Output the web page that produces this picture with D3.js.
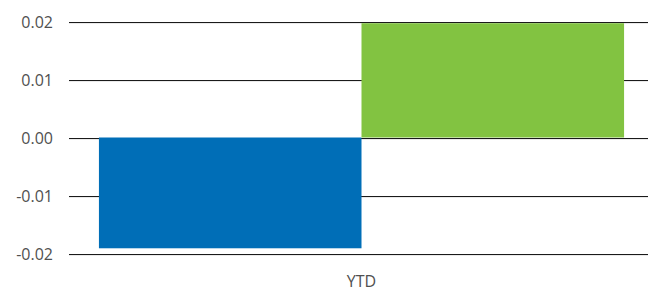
<!DOCTYPE html>
<html>
<head>
<meta charset="utf-8">
<script src="https://cdn.jsdelivr.net/npm/d3@7"></script>
<style>
body { margin: 0; background: #fff; }
svg { display: block; font-family: "Open Sans", sans-serif; }
</style>
</head>
<body>
<div id="chart"></div>
<script>
var categories = ["YTD"];
var seriesNames = ["A", "B"];
var seriesValues = [-0.0191, 0.0197];
var yTicks = [-0.02, -0.01, 0, 0.01, 0.02];
var colors = ["#006eb7", "#82c341"];

var width = 648, height = 292;
var margin = {top: 21.5, right: 0, bottom: 38.5, left: 69};
var plotRight = 654; // plot area runs past the window edge

var svg = d3.select("#chart")
  .append("svg")
  .attr("width", width)
  .attr("height", height);

var y = d3.scaleLinear()
  .domain([-0.02, 0.02])
  .range([height - margin.bottom, margin.top]);

var x0 = d3.scaleBand()
  .domain(categories)
  .range([margin.left, plotRight])
  .paddingOuter(0.057);

var x1 = d3.scaleBand()
  .domain(seriesNames)
  .range([0, x0.bandwidth()]);

var fmt = function(d) { return d3.format(".2f")(d).replace("\u2212", "-"); };

// gridlines (dark line with a faint shadow under it)
var grid = svg.append("g");
grid.selectAll("line.shadow")
  .data(yTicks)
  .enter()
  .append("line")
  .attr("class", "shadow")
  .attr("x1", margin.left)
  .attr("x2", width)
  .attr("y1", function(d) { return Math.round(y(d)) + 1; })
  .attr("y2", function(d) { return Math.round(y(d)) + 1; })
  .attr("stroke", "#d6d6d6")
  .attr("stroke-width", 1);

grid.selectAll("line.main")
  .data(yTicks)
  .enter()
  .append("line")
  .attr("class", "main")
  .attr("x1", margin.left)
  .attr("x2", width)
  .attr("y1", function(d) { return Math.round(y(d)) + 0.5; })
  .attr("y2", function(d) { return Math.round(y(d)) + 0.5; })
  .attr("stroke", "#1a1a1a")
  .attr("stroke-width", 1);

// y axis labels
var yAxis = svg.append("g")
  .attr("transform", "translate(" + (margin.left - 16) + ",0)")
  .call(d3.axisLeft(y).tickValues(yTicks).tickSize(0).tickFormat(fmt));
yAxis.select(".domain").remove();
yAxis.selectAll("text")
  .attr("x", 0)
  .attr("dy", "0.36em")
  .attr("fill", "#505050")
  .style("font-size", "16px")
  .style("font-family", "'Open Sans', sans-serif");

// bars
var bars = svg.append("g")
  .attr("transform", "translate(" + x0(categories[0]) + ",0)");
bars.selectAll("rect")
  .data(seriesValues)
  .enter()
  .append("rect")
  .attr("x", function(d, i) { return x1(seriesNames[i]); })
  .attr("width", x1.bandwidth())
  .attr("y", function(d) { return Math.min(y(d), y(0)); })
  .attr("height", function(d) { return Math.abs(y(d) - y(0)); })
  .attr("fill", function(d, i) { return colors[i]; });

// x axis labels (kept inside the bottom edge)
var xAxis = svg.append("g")
  .attr("transform", "translate(0," + (height - 5) + ")")
  .call(d3.axisBottom(x0).tickSize(0));
xAxis.select(".domain").remove();
xAxis.selectAll("text")
  .attr("y", 0)
  .attr("dy", "0em")
  .attr("fill", "#505050")
  .style("font-size", "16px")
  .style("font-family", "'Open Sans', sans-serif");
</script>
</body>
</html>
